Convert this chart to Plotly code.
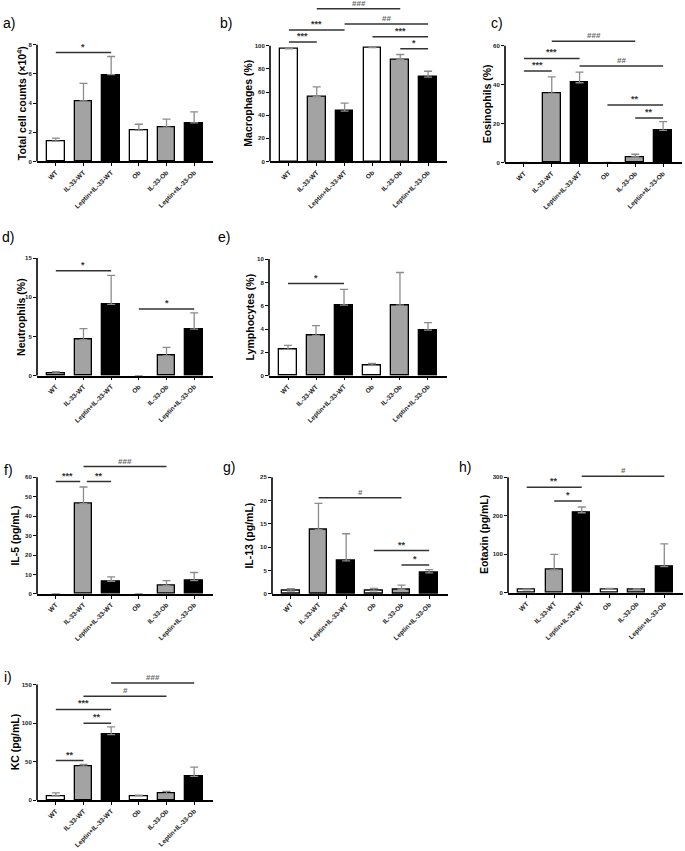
import plotly.graph_objects as go

W, H = 685, 851

categories = ["WT", "IL-33-WT", "Leptin+IL-33-WT", "Ob", "IL-33-Ob", "Leptin+IL-33-Ob"]

total_counts_mean = [1.4, 4.15, 5.95, 2.15, 2.35, 2.65]
total_counts_sem = [0.2, 1.2, 1.25, 0.4, 0.55, 0.75]
macro_mean = [97.5, 56, 43.5, 98.5, 88, 73]
macro_sem = [0.4, 8.5, 7, 0.5, 4.5, 5]
eos_mean = [0, 35.5, 41, 0, 2.8, 16.5]
eos_sem = [0, 8.5, 5.5, 0, 1.4, 4.5]
neut_mean = [0.3, 4.6, 9.1, 0, 2.55, 5.95]
neut_sem = [0.2, 1.4, 3.7, 0, 1.05, 2.05]
lymph_mean = [2.25, 3.45, 6.05, 0.9, 6.05, 3.9]
lymph_sem = [0.35, 0.85, 1.35, 0.15, 2.8, 0.65]
il5_mean = [0, 46.5, 6.5, 0, 4.3, 6.8]
il5_sem = [0, 8.5, 2.3, 0, 2.5, 4.2]
il13_mean = [0.6, 13.8, 7.1, 0.65, 1.0, 4.5]
il13_sem = [0.5, 5.6, 5.8, 0.55, 0.9, 0.7]
eotaxin_mean = [8, 60, 208, 10, 9, 68]
eotaxin_sem = [2, 40, 15, 1.5, 1.5, 59]
kc_mean = [5.5, 44, 85, 5.5, 8.5, 31]
kc_sem = [4, 2.5, 10, 1, 3, 12]

# significance brackets: (from group, to group, height, label)
sig_a = [(0, 2, 7.47, "*")]
sig_b = [(0, 1, 103.4, "***"), (0, 2, 113.8, "***"), (2, 5, 119, "##"),
         (1, 4, 132, "###"), (3, 5, 107.8, "***"), (4, 5, 97.4, "*")]
sig_c = [(1, 4, 62.4, "###"), (0, 2, 53.5, "***"), (0, 1, 47, "***"),
         (2, 5, 49.6, "##"), (3, 5, 29.5, "**"), (4, 5, 22.9, "**")]
sig_d = [(0, 2, 13.4, "*"), (3, 5, 8.5, "*")]
sig_e = [(0, 2, 7.9, "*")]
sig_f = [(0, 1, 57.8, "***"), (1, 2, 57.8, "**"), (1, 4, 65.5, "###")]
sig_g = [(1, 4, 20.6, "#"), (3, 5, 9.3, "**"), (4, 5, 6.2, "*")]
sig_h = [(0, 2, 274, "**"), (1, 2, 238.6, "*"), (2, 5, 303, "#")]
sig_i = [(2, 5, 152, "###"), (1, 4, 135, "#"), (0, 2, 117.8, "***"),
         (1, 2, 99.8, "**"), (0, 1, 51.4, "**")]

fills = ["white", "#a3a3a3", "black", "white", "#a3a3a3", "black"]

# layout (pixel geometry)
panels = [
    dict(lab="a)", lx=1, ly=23, yt="Total cell counts (×10<sup>4</sup>)", tx=21,
         m=total_counts_mean, s=total_counts_sem, sig=sig_a,
         left=37, right=213, zero=162, top=45, topv=8, dt=2),
    dict(lab="b)", lx=218, ly=23, yt="Macrophages (%)", tx=248,
         m=macro_mean, s=macro_sem, sig=sig_b,
         left=270, right=447, zero=162, top=46, topv=100, dt=20),
    dict(lab="c)", lx=489, ly=23, yt="Eosinophils (%)", tx=487,
         m=eos_mean, s=eos_sem, sig=sig_c,
         left=505, right=682, zero=163, top=46, topv=60, dt=20),
    dict(lab="d)", lx=0, ly=238, yt="Neutrophils (%)", tx=21,
         m=neut_mean, s=neut_sem, sig=sig_d,
         left=37, right=213, zero=377, top=259, topv=15, dt=5),
    dict(lab="e)", lx=216, ly=238, yt="Lymphocytes (%)", tx=250,
         m=lymph_mean, s=lymph_sem, sig=sig_e,
         left=269, right=447, zero=377, top=260, topv=10, dt=2),
    dict(lab="f)", lx=2, ly=472, yt="IL-5 (pg/mL)", tx=15,
         m=il5_mean, s=il5_sem, sig=sig_f,
         left=37, right=213, zero=596, top=479, topv=60, dt=10),
    dict(lab="g)", lx=221, ly=469, yt="IL-13 (pg/mL)", tx=249,
         m=il13_mean, s=il13_sem, sig=sig_g,
         left=272, right=448, zero=596, top=479, topv=25, dt=5),
    dict(lab="h)", lx=457, ly=469, yt="Eotaxin (pg/mL)", tx=484,
         m=eotaxin_mean, s=eotaxin_sem, sig=sig_h,
         left=508, right=683, zero=595, top=479, topv=300, dt=100),
    dict(lab="i)", lx=2, ly=679, yt="KC (pg/mL)", tx=15,
         m=kc_mean, s=kc_sem, sig=sig_i,
         left=37, right=213, zero=803, top=687, topv=150, dt=50),
]

PAD = 0.68
FONT = "Liberation Sans"
fig = go.Figure()
shapes, annotations = [], []

for n, p in enumerate(panels, start=1):
    xa = "x" if n == 1 else f"x{n}"
    ya = "y" if n == 1 else f"y{n}"
    k = (p["zero"] - p["top"]) / p["topv"]
    maxv = max([sg[2] for sg in p["sig"]] + [a + b for a, b in zip(p["m"], p["s"])] + [p["topv"]])
    ytop = maxv * 1.04
    top_px = p["zero"] - ytop * k
    ydom = [1 - p["zero"] / H, min(1.0, 1 - top_px / H)]
    xdom = [p["left"] / W, p["right"] / W]

    nonzero = [v > 0 for v in p["m"]]
    fig.add_trace(go.Bar(
        x=list(range(len(categories))), y=p["m"],
        marker=dict(color=fills,
                    line=dict(color="black", width=[1.3 if nz else 0 for nz in nonzero])),
        width=0.63,
        error_y=dict(type="data", symmetric=False,
                     array=[s if nz else None for s, nz in zip(p["s"], nonzero)],
                     arrayminus=[0] * len(p["s"]), color="#8c8c8c",
                     thickness=1.3, width=4),
        xaxis=xa, yaxis=ya, showlegend=False, hoverinfo="skip"))

    xkey = "xaxis" if n == 1 else f"xaxis{n}"
    ykey = "yaxis" if n == 1 else f"yaxis{n}"
    nt = int(round(p["topv"] / p["dt"])) + 1
    fig.update_layout({
        xkey: dict(domain=xdom, anchor=ya, range=[-PAD, len(categories) - 1 + PAD],
                   tickmode="array", tickvals=list(range(len(categories))),
                   ticktext=[f"<b>{c}</b>" for c in categories], tickangle=-45,
                   showline=True, linecolor="black", linewidth=1.6,
                   ticks="outside", ticklen=3, tickwidth=1, tickcolor="black",
                   tickfont=dict(family=FONT, size=6.5, color="#222"),
                   showgrid=False, zeroline=False, fixedrange=True),
        ykey: dict(domain=ydom, anchor=xa, range=[0, ytop],
                   tickmode="array",
                   tickvals=[v * p["dt"] for v in range(nt)],
                   ticktext=[f"<b>{v * p['dt']:g}</b>" for v in range(nt)],
                   showline=False, ticks="outside", ticklen=3, tickwidth=1,
                   tickcolor="black", tickfont=dict(family=FONT, size=6, color="#222"),
                   showgrid=False, zeroline=False, fixedrange=True),
    })
    # y axis line ending at top tick (Prism style)
    shapes.append(dict(type="line", xref="paper", yref=ya,
                       x0=p["left"] / W, x1=p["left"] / W, y0=0, y1=p["topv"],
                       line=dict(color="black", width=1.6)))
    # significance brackets
    pairs = {}
    for (i, j, h, t) in p["sig"]:
        pairs.setdefault(h, []).append((i, j))
    for (i, j, h, t) in p["sig"]:
        x0, x1 = float(i), float(j)
        for (a, b) in pairs[h]:
            if (a, b) != (i, j):
                if b == i:
                    x0 += 0.12
                if a == j:
                    x1 -= 0.12
        shapes.append(dict(type="line", xref=xa, yref=ya, x0=x0, x1=x1, y0=h, y1=h,
                           line=dict(color="#333", width=1.5)))
        annotations.append(dict(xref=xa, yref=ya, x=(x0 + x1) / 2, y=h, text=f"<b>{t}</b>",
                                showarrow=False, yanchor="bottom", yshift=-1,
                                font=dict(family=FONT, size=8 if "#" in t else 9,
                                          color="#666" if "#" in t else "#333")))
    # y title
    annotations.append(dict(xref="paper", yref="paper", x=p["tx"] / W,
                            y=1 - ((p["zero"] + p["top"]) / 2) / H,
                            text=f"<b>{p['yt']}</b>", textangle=-90, showarrow=False,
                            xanchor="center", yanchor="middle",
                            font=dict(family=FONT, size=10.5, color="black")))
    # panel label
    annotations.append(dict(xref="paper", yref="paper", x=p["lx"] / W, y=1 - p["ly"] / H,
                            text=p["lab"], showarrow=False, xanchor="left", yanchor="middle",
                            font=dict(family=FONT, size=14, color="black")))

fig.update_layout(width=W, height=H, margin=dict(l=0, r=0, t=0, b=0),
                  paper_bgcolor="white", plot_bgcolor="white",
                  bargap=0, shapes=shapes, annotations=annotations,
                  font=dict(family=FONT))

fig.write_html("out.html", config={"displayModeBar": False},
               post_script="document.body.style.margin='0';document.body.style.padding='0';")
